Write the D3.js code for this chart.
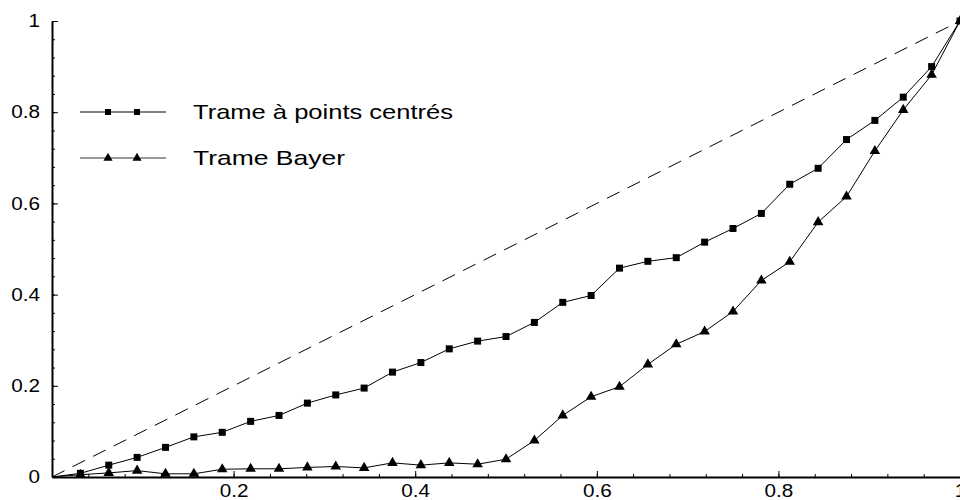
<!DOCTYPE html>
<html>
<head>
<meta charset="utf-8">
<script src="https://cdn.jsdelivr.net/npm/d3@7"></script>
<style>
  body { margin: 0; background: #fff; }
  text { font-family: "Liberation Sans", Arial, sans-serif; fill: #000; }
</style>
</head>
<body>
<div id="chart"></div>
<script>
// grey level positions (k/32) and measured densities
var xValues = [0, 0.03125, 0.0625, 0.09375, 0.125, 0.15625, 0.1875, 0.21875, 0.25,
  0.28125, 0.3125, 0.34375, 0.375, 0.40625, 0.4375, 0.46875, 0.5,
  0.53125, 0.5625, 0.59375, 0.625, 0.65625, 0.6875, 0.71875, 0.75,
  0.78125, 0.8125, 0.84375, 0.875, 0.90625, 0.9375, 0.96875, 1];

var pointsCentres = [0, 0.008, 0.026, 0.043, 0.065, 0.088, 0.098, 0.122, 0.135,
  0.162, 0.180, 0.195, 0.230, 0.251, 0.281, 0.298, 0.308,
  0.339, 0.383, 0.398, 0.458, 0.473, 0.481, 0.515, 0.545,
  0.578, 0.642, 0.677, 0.740, 0.782, 0.833, 0.900, 1.0];

var bayer = [0, 0.005, 0.009, 0.014, 0.007, 0.007, 0.017, 0.018, 0.018,
  0.021, 0.023, 0.020, 0.031, 0.026, 0.031, 0.028, 0.039,
  0.080, 0.135, 0.176, 0.198, 0.247, 0.291, 0.319, 0.363,
  0.431, 0.472, 0.559, 0.615, 0.715, 0.805, 0.882, 1.0];

var majorTicks = [0, 0.2, 0.4, 0.6, 0.8, 1];
var xLabels = [0.2, 0.4, 0.6, 0.8, 1];
var seriesNames = ["Trame à points centrés", "Trame Bayer"];

var width = 960, height = 500;
var margin = {top: 21, right: 0, bottom: 23, left: 52};

var svg = d3.select("#chart")
  .append("svg")
  .attr("width", width)
  .attr("height", height);

var x = d3.scaleLinear().domain([0, 1]).range([margin.left, width]);
var y = d3.scaleLinear().domain([0, 1]).range([height - margin.bottom, margin.top]);

var minorTicks = d3.range(0, 1.0001, 0.04);

// minor ticks
svg.append("g")
  .attr("transform", "translate(0," + y(0) + ")")
  .call(d3.axisBottom(x).tickValues(minorTicks).tickSize(-3).tickFormat(""))
  .call(function(g) { g.select(".domain").remove(); });
svg.append("g")
  .attr("transform", "translate(" + x(0) + ",0)")
  .call(d3.axisLeft(y).tickValues(minorTicks).tickSize(-3).tickFormat(""))
  .call(function(g) { g.select(".domain").remove(); });

// x axis
var xAxis = svg.append("g")
  .attr("transform", "translate(0," + y(0) + ")")
  .call(d3.axisBottom(x).tickValues(majorTicks).tickSize(-6).tickSizeOuter(0)
    .tickFormat(function(d) { return xLabels.indexOf(d) >= 0 ? d3.format("~g")(d) : ""; }));
xAxis.select(".domain").attr("stroke-width", 2);
xAxis.selectAll("text")
  .attr("y", 0).attr("dy", 0)
  .attr("transform", "translate(0,20) scale(1.15,1)")
  .style("font-size", "18px");

// y axis
var yAxis = svg.append("g")
  .attr("transform", "translate(" + x(0) + ",0)")
  .call(d3.axisLeft(y).tickValues(majorTicks).tickSize(-6).tickSizeOuter(0)
    .tickFormat(d3.format("~g")));
yAxis.select(".domain").attr("stroke-width", 2);
yAxis.selectAll("text")
  .attr("x", 0)
  .attr("transform", "translate(-12,0) scale(1.15,1)")
  .style("font-size", "18px");

svg.selectAll(".tick line").attr("stroke", "#000");
svg.selectAll(".domain").attr("stroke", "#000");

// diagonal reference
svg.append("line")
  .attr("x1", x(0)).attr("y1", y(0))
  .attr("x2", x(1)).attr("y2", y(1))
  .attr("stroke", "#000")
  .attr("stroke-width", 1)
  .attr("stroke-dasharray", "14,9");

var line = d3.line()
  .x(function(d) { return x(d[0]); })
  .y(function(d) { return y(d[1]); });

var sq = d3.symbol().type(d3.symbolSquare).size(49);
var tri = d3.symbol().type(d3.symbolTriangle).size(48);

var series = [
  {values: pointsCentres, symbol: sq, legendY: 112, legendColor: "#000", textLen: 260},
  {values: bayer, symbol: tri, legendY: 158, legendColor: "#777", textLen: 152}
];

series.forEach(function(s, i) {
  var pts = xValues.map(function(v, j) { return [v, s.values[j]]; });
  svg.append("path")
    .datum(pts)
    .attr("fill", "none")
    .attr("stroke", "#000")
    .attr("stroke-width", 1)
    .attr("d", line);

  svg.selectAll(null)
    .data(pts.slice(1))
    .enter()
    .append("path")
    .attr("transform", function(d) { return "translate(" + x(d[0]) + "," + y(d[1]) + ")"; })
    .attr("d", s.symbol)
    .attr("fill", "#000");

  // legend
  svg.append("line")
    .attr("x1", 80).attr("x2", 166)
    .attr("y1", s.legendY).attr("y2", s.legendY)
    .attr("stroke", s.legendColor)
    .attr("stroke-width", i == 0 ? 1 : 1.5);
  [108, 137].forEach(function(mx) {
    svg.append("path")
      .attr("transform", "translate(" + mx + "," + s.legendY + ")")
      .attr("d", i == 0 ? d3.symbol().type(d3.symbolSquare).size(36)() : d3.symbol().type(d3.symbolTriangle).size(36)())
      .attr("fill", "#000");
  });
  svg.append("text")
    .attr("x", 193)
    .attr("y", s.legendY + 7)
    .attr("textLength", s.textLen)
    .attr("lengthAdjust", "spacingAndGlyphs")
    .style("font-size", "21px")
    .text(seriesNames[i]);
});
</script>
</body>
</html>
